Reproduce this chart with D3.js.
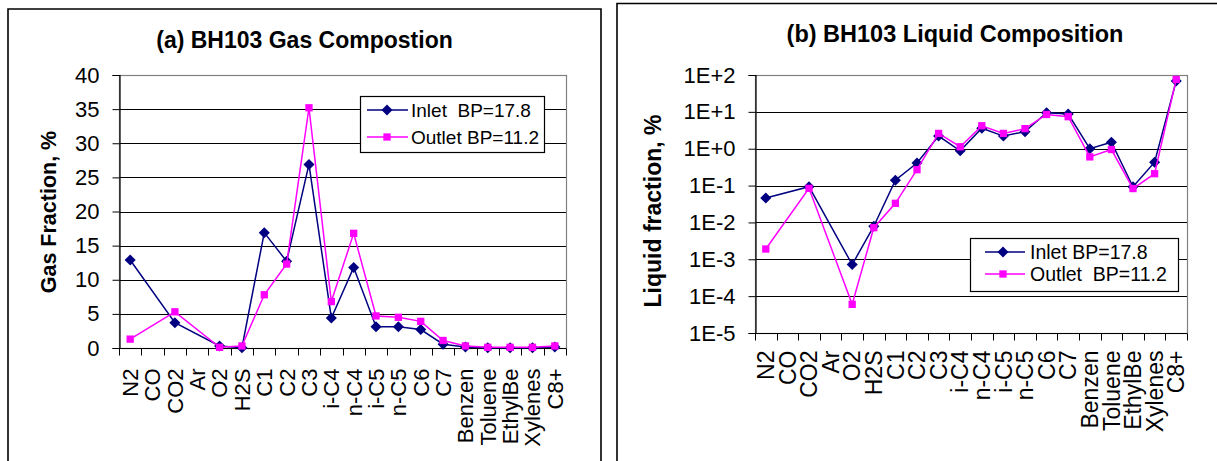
<!DOCTYPE html>
<html>
<head>
<meta charset="utf-8">
<script src="https://cdn.jsdelivr.net/npm/d3@7/dist/d3.min.js"></script>
<style>
  html, body { margin: 0; padding: 0; background: #fff; }
  svg { display: block; }
  text { font-family: "Liberation Sans", Arial, sans-serif; fill: #000; }
</style>
</head>
<body>
<svg id="chart" width="1217" height="461"></svg>
<script>
// ---------- data ----------
const categories = ["N2","CO","CO2","Ar","O2","H2S","C1","C2","C3","i-C4","n-C4","i-C5","n-C5","C6","C7","Benzen","Toluene","EthylBe","Xylenes","C8+"];

const gasInlet  = [12.9, null, 3.7, null, 0.3, 0.05, 16.9, 12.7, 26.9, 4.4, 11.8, 3.1, 3.1, 2.7, 0.55, 0.15, 0.05, 0.03, 0.05, 0.15];
const gasOutlet = [1.3, null, 5.3, null, 0.1, 0.3, 7.8, 12.3, 35.2, 6.8, 16.8, 4.7, 4.5, 3.9, 1.1, 0.3, 0.1, 0.1, 0.1, 0.3];

const liqInlet  = [0.046, null, 0.093, null, 0.00072, 0.0079, 0.14, 0.41, 2.2, 0.88, 3.6, 2.2, 2.9, 9.5, 8.7, 1.0, 1.5, 0.093, 0.43, 69];
const liqOutlet = [0.0019, null, 0.084, null, 0.00006, 0.0072, 0.033, 0.27, 2.6, 1.13, 4.2, 2.6, 3.5, 8.5, 7.4, 0.6, 0.95, 0.083, 0.21, 76];

const gasTicks = [0, 5, 10, 15, 20, 25, 30, 35, 40];
const liqTicks = [1e-5, 1e-4, 1e-3, 1e-2, 1e-1, 1e0, 1e1, 1e2];
const liqTickLabels = ["1E-5", "1E-4", "1E-3", "1E-2", "1E-1", "1E+0", "1E+1", "1E+2"];

const gasLegend = ["Inlet  BP=17.8", "Outlet BP=11.2"];
const liqLegend = ["Inlet BP=17.8", "Outlet  BP=11.2"];

// ---------- styles ----------
const INLET = "#000080", OUTLET = "#FF00FF";
const svg = d3.select("#chart");
const diamondPath = d3.symbol(d3.symbolDiamond2, 78)();
const squarePath = d3.symbol(d3.symbolSquare2, 68)();

function drawPanel(cfg) {
  const F = cfg.fonts;
  const g = svg.append("g");
  // panel border
  g.append("path")
    .attr("d", cfg.border)
    .attr("fill", "none").attr("stroke", "#000").attr("stroke-width", 1.6);

  // title
  g.append("text")
    .attr("x", cfg.titleX).attr("y", cfg.titleY)
    .attr("text-anchor", "middle")
    .style("font-size", F.title + "px").style("font-weight", "bold")
    .text(cfg.title);

  const x = d3.scaleBand().domain(categories).range([cfg.x0, cfg.x1]);
  const y = cfg.y;

  // gridlines
  g.append("g").selectAll("line").data(cfg.ticks.filter((t, i) => i > 0))
    .join("line")
    .attr("x1", cfg.x0).attr("x2", cfg.x1)
    .attr("y1", d => Math.round(y(d)) + 0.5).attr("y2", d => Math.round(y(d)) + 0.5)
    .attr("stroke", "#000").attr("stroke-width", 1);

  // plot area border (grey)
  g.append("rect")
    .attr("x", cfg.x0 + 0.5).attr("y", cfg.y0 + 0.5)
    .attr("width", cfg.x1 - cfg.x0).attr("height", cfg.y1 - cfg.y0)
    .attr("fill", "none").attr("stroke", "#808080").attr("stroke-width", 1.2);

  // y axis
  const yAxis = d3.axisLeft(y).tickValues(cfg.ticks).tickSize(7).tickPadding(13)
    .tickFormat((d, i) => cfg.tickLabels[i]);
  const ya = g.append("g").attr("transform", `translate(${cfg.x0 + 0.5},0)`).call(yAxis);
  ya.select(".domain").attr("stroke", "#000").attr("stroke-width", 1.2);
  ya.selectAll(".tick line").attr("stroke", "#000");
  ya.selectAll(".tick text")
    .style("font-family", '"Liberation Sans", Arial, sans-serif')
    .style("font-size", F.tick + "px").attr("fill", "#000");

  // x axis
  const xa = g.append("g").attr("transform", `translate(0,${cfg.y1 + 0.5})`);
  xa.append("line").attr("x1", cfg.x0).attr("x2", cfg.x1).attr("y1", 0).attr("y2", 0)
    .attr("stroke", "#000").attr("stroke-width", 1.2);
  const bounds = categories.map(c => x(c)).concat([cfg.x1]);
  xa.selectAll("line.tk").data(bounds).join("line").attr("class", "tk")
    .attr("x1", d => Math.round(d) + 0.5).attr("x2", d => Math.round(d) + 0.5)
    .attr("y1", 0).attr("y2", 7).attr("stroke", "#000").attr("stroke-width", 1);
  xa.selectAll("text").data(categories).join("text")
    .attr("transform", d => `translate(${x(d) + x.bandwidth() / 2},${cfg.catGap}) rotate(-90)`)
    .attr("text-anchor", "end").attr("dy", "0.36em")
    .style("font-size", F.cat + "px")
    .text(d => d);

  // y title
  g.append("text")
    .attr("transform", `translate(${cfg.yTitleX},${cfg.yTitleY}) rotate(-90)`)
    .attr("text-anchor", "middle").attr("dy", "0.36em")
    .style("font-size", F.ytitle + "px").style("font-weight", "bold")
    .text(cfg.yTitle);

  // series
  const series = [
    { vals: cfg.inlet, color: INLET, shape: diamondPath },
    { vals: cfg.outlet, color: OUTLET, shape: squarePath }
  ];
  const cx = c => x(c) + x.bandwidth() / 2;
  const line = d3.line().x(d => cx(d.c)).y(d => y(d.v));
  series.forEach(s => {
    const pts = categories.map((c, i) => ({ c, v: s.vals[i] })).filter(d => d.v != null);
    g.append("path").datum(pts).attr("d", line)
      .attr("fill", "none").attr("stroke", s.color).attr("stroke-width", 1.5);
    g.append("g").selectAll("path").data(pts).join("path")
      .attr("transform", d => `translate(${cx(d.c)},${y(d.v)})`)
      .attr("d", s.shape)
      .attr("fill", s.color);
  });

  // legend
  const L = cfg.legend;
  const lg = g.append("g");
  lg.append("rect").attr("x", L.x + 0.5).attr("y", L.y + 0.5).attr("width", L.w).attr("height", L.h)
    .attr("fill", "#fff").attr("stroke", "#000").attr("stroke-width", 1.2);
  series.forEach((s, i) => {
    const ry = L.rows[i];
    lg.append("line").attr("x1", L.lx0).attr("x2", L.lx1).attr("y1", ry).attr("y2", ry)
      .attr("stroke", s.color).attr("stroke-width", 1.5);
    lg.append("path").attr("transform", `translate(${L.mx},${ry})`)
      .attr("d", s.shape)
      .attr("fill", s.color);
    lg.append("text").attr("x", L.tx).attr("y", ry).attr("dy", "0.36em")
      .style("font-size", F.legend + "px").style("white-space", "pre")
      .text(cfg.legendLabels[i]);
  });
}

// ---------- panel (a) ----------
drawPanel({
  border: "M8,470 L8,9 L601,9 L601,470",
  title: "(a) BH103 Gas Compostion", titleX: 304.5, titleY: 48,
  x0: 119, x1: 566, y0: 75, y1: 348,
  y: d3.scaleLinear().domain([0, 40]).range([348, 75]),
  ticks: gasTicks, tickLabels: gasTicks.map(String),
  yTitle: "Gas Fraction, %", yTitleX: 48, yTitleY: 212,
  inlet: gasInlet, outlet: gasOutlet,
  legendLabels: gasLegend,
  catGap: 20,
  fonts: { title: 23, tick: 22, cat: 22, ytitle: 21.5, legend: 19 },
  legend: { x: 360, y: 96, w: 184, h: 56, rows: [110, 137], lx0: 367, lx1: 408, mx: 387, tx: 411 }
});

// ---------- panel (b) ----------
drawPanel({
  border: "M617,470 L617,3.5 L1230,3.5",
  title: "(b) BH103 Liquid Composition", titleX: 955, titleY: 41.5,
  x0: 755, x1: 1187, y0: 75, y1: 333,
  y: d3.scaleLog().domain([1e-5, 1e2]).range([333, 75]),
  ticks: liqTicks, tickLabels: liqTickLabels,
  yTitle: "Liquid fraction, %", yTitleX: 653, yTitleY: 211,
  inlet: liqInlet, outlet: liqOutlet,
  legendLabels: liqLegend,
  catGap: 17,
  fonts: { title: 23.5, tick: 22, cat: 23, ytitle: 23, legend: 19.5 },
  legend: { x: 970, y: 238, w: 208, h: 53, rows: [252, 274], lx0: 985, lx1: 1025, mx: 1003, tx: 1030 }
});
</script>
</body>
</html>
